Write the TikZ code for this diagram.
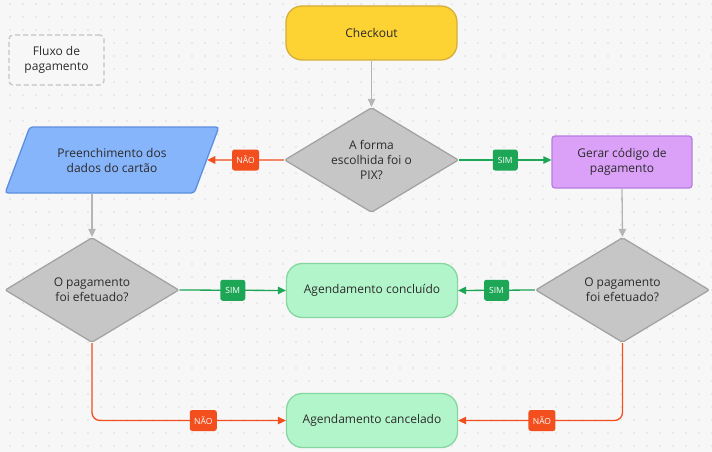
\documentclass[tikz,border=0pt]{standalone}
\usepackage{fontspec}
\setmainfont{Open Sans}
\usetikzlibrary{shapes.geometric,arrows.meta}
\definecolor{bgc}{HTML}{F7F7F7}
\definecolor{dotc}{HTML}{D9D9D9}
\definecolor{txt}{HTML}{2B2B2B}
\definecolor{yelF}{HTML}{FDD233}
\definecolor{yelD}{HTML}{D6AE3A}
\definecolor{gryF}{HTML}{C6C6C6}
\definecolor{gryD}{HTML}{A3A3A3}
\definecolor{bluF}{HTML}{87B5FB}
\definecolor{bluD}{HTML}{5C8FE0}
\definecolor{purF}{HTML}{DBA1F8}
\definecolor{purD}{HTML}{B67EE0}
\definecolor{grnF}{HTML}{B3F5CA}
\definecolor{grnD}{HTML}{86D6A2}
\definecolor{lineG}{HTML}{B5B5B5}
\definecolor{lineR}{HTML}{F24E1E}
\definecolor{lineS}{HTML}{1DA655}
\definecolor{noteD}{HTML}{C4C4C4}
\tikzset{
  base/.style={font=\fontsize{12}{15}\selectfont, text=txt, align=center, line width=1.3pt, inner sep=0pt},
  pill/.style={base, rectangle, rounded corners=16pt, minimum width=171pt, minimum height=54pt},
  startbox/.style={pill, fill=yelF, draw=yelD},
  endbox/.style={pill, fill=grnF, draw=grnD},
  decision/.style={base, diamond, aspect=1.66, minimum width=174pt, minimum height=105pt, fill=gryF, draw=gryD, rounded corners=2pt},
  iobox/.style={base, trapezium, trapezium left angle=56, trapezium right angle=124, trapezium stretches=true, minimum width=214pt, minimum height=66pt, fill=bluF, draw=bluD, rounded corners=3pt},
  procbox/.style={base, rectangle, rounded corners=3pt, minimum width=140pt, minimum height=52pt, fill=purF, draw=purD},
  notebox/.style={base, rectangle, rounded corners=4pt, minimum width=95pt, minimum height=50pt, fill=bgc, draw=noteD, dashed, dash pattern=on 5pt off 3pt},
  conn/.style={line width=1.3pt, -{Triangle[length=8pt,width=7.5pt]}},
  grayconn/.style={conn, draw=lineG},
  redconn/.style={conn, draw=lineR, rounded corners=8pt},
  greenconn/.style={conn, draw=lineS},
  tagbox/.style={rectangle, rounded corners=2.5pt, text=white, font=\fontsize{8.5}{10}\selectfont, inner sep=0pt, minimum height=21pt},
  notag/.style={tagbox, fill=lineR, minimum width=27pt},
  simtag/.style={tagbox, fill=lineS, minimum width=25pt},
}
\begin{document}
\begin{tikzpicture}[x=1pt,y=-1pt]
\useasboundingbox (0,0) rectangle (712,452);
\fill[bgc] (0,0) rectangle (712,452);
\foreach \i in {0,...,54} {
  \foreach \j in {0,...,34} {
    \fill[dotc] (10+13*\i, 4+13*\j) circle (0.8pt);
  }
}
\node[notebox] (note) at (56.5,60) {Fluxo de\\pagamento};
\node[startbox] (checkout) at (371.5,33) {Checkout};
\node[decision] (pix) at (371.5,160) {A forma\\escolhida foi o\\PIX?};
\node[iobox] (card) at (112,160) {Preenchimento dos\\dados do cartão};
\node[procbox] (code) at (622,162) {Gerar código de\\pagamento};
\node[decision] (payL) at (92,290) {O pagamento\\foi efetuado?};
\node[decision] (payR) at (622.5,290) {O pagamento\\foi efetuado?};
\node[endbox] (done) at (372,290.5) {Agendamento concluído};
\node[endbox] (cancel) at (372,420.5) {Agendamento cancelado};

\draw[grayconn] (checkout.south) -- (pix.north);
\draw[redconn] (pix.west) -- node[notag] {NÃO} (card.east);
\draw[greenconn] (pix.east) -- node[simtag] {SIM} (pix.east -| code.west);
\draw[grayconn] (card.south -| payL.north) -- (payL.north);
\draw[grayconn] (code.south) -- (payR.north);
\draw[greenconn] (payL.east) -- node[simtag] {SIM} (done.west);
\draw[greenconn] (payR.west) -- node[simtag] {SIM} (done.east);
\draw[redconn] (payL.south) |- node[notag, pos=0.787] {NÃO} (cancel.west);
\draw[redconn] (payR.south) |- node[notag, pos=0.745] {NÃO} (cancel.east);
\end{tikzpicture}
\end{document}
